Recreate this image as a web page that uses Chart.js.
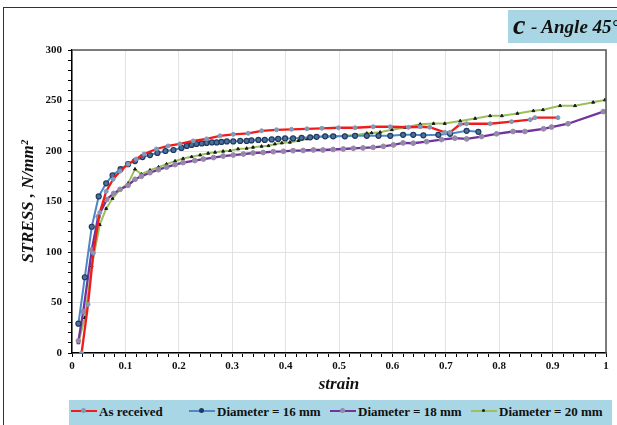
<!DOCTYPE html>
<html>
<head>
<meta charset="utf-8">
<script src="https://cdn.jsdelivr.net/npm/chart.js@4.4.1/dist/chart.umd.min.js"></script>
<style>
  html, body { margin: 0; padding: 0; background: #fff; }
  #wrap { position: relative; width: 617px; height: 425px; overflow: hidden; font-family: "Liberation Serif", serif; }
  #frame { position: absolute; left: 3px; top: 7px; width: 700px; height: 500px; border-left: 1.5px solid #333; border-top: 1.5px solid #333; }
  #chart { position: absolute; left: 0; top: 0; }
  #tag { position: absolute; left: 508px; top: 10px; width: 130px; height: 33px; background: #a9d6e4; font-weight: bold; font-style: italic; white-space: nowrap; color: #111; }
  #tag .big { font-size: 28px; position: absolute; left: 5px; top: -1px; }
  #tag .rest { font-size: 19px; position: absolute; left: 23px; top: 6px; }
  #legend { position: absolute; left: 69px; top: 400px; width: 543px; height: 25px; background: #a9d6e4; font-weight: bold; font-size: 13px; color: #111; }
  .item { position: absolute; top: 4px; white-space: nowrap; }
  .sw { display: inline-block; position: relative; width: 26px; height: 12px; vertical-align: -1px; margin-right: 2px; }
  .sw .ln { position: absolute; left: 0; right: 0; top: 5px; height: 2px; }
  .sw .pt { position: absolute; left: 10px; top: 3px; width: 5px; height: 5px; border-radius: 50%; }
</style>
</head>
<body>
<div id="wrap">
  <div id="frame"></div>
  <canvas id="chart" width="617" height="425"></canvas>
  <div id="tag"><span class="big">c</span><span class="rest">- Angle 45°</span></div>
  <div id="legend"></div>
</div>
<script>
// series names and colours
const seriesNames = ["As received", "Diameter = 16 mm", "Diameter = 18 mm", "Diameter = 20 mm"];
const lineColors = ["#f01c1c", "#4f86c6", "#7232a0", "#9bc05a"];
const markColors = ["#7f9aba", "#1f3a60", "#948aa6", "#1a1a1a"];

// As received
const asReceivedStrain = [0.018, 0.03, 0.04, 0.052, 0.064, 0.077, 0.09, 0.105, 0.12, 0.135, 0.158, 0.18, 0.202, 0.227, 0.252, 0.277, 0.302, 0.33, 0.355, 0.383, 0.411, 0.44, 0.468, 0.499, 0.53, 0.564, 0.596, 0.63, 0.652, 0.67, 0.698, 0.708, 0.727, 0.739, 0.783, 0.823, 0.858, 0.867, 0.91];
const asReceivedStress = [0, 48, 99, 139, 160, 172, 180, 187, 192, 197, 202, 205, 207, 210, 212, 215, 216.5, 217.5, 220, 221, 221.5, 222, 222.5, 223, 223, 224, 224, 223.5, 224, 223.5, 218.5, 218.5, 226.5, 227, 227, 229, 231, 233, 233];

// Diameter = 16 mm
const d16Strain = [0.012, 0.024, 0.037, 0.05, 0.064, 0.076, 0.091, 0.105, 0.118, 0.132, 0.146, 0.16, 0.175, 0.19, 0.205, 0.215, 0.224, 0.233, 0.243, 0.252, 0.262, 0.271, 0.28, 0.29, 0.302, 0.315, 0.327, 0.336, 0.349, 0.361, 0.374, 0.386, 0.399, 0.414, 0.43, 0.446, 0.458, 0.474, 0.489, 0.511, 0.53, 0.552, 0.574, 0.596, 0.62, 0.639, 0.658, 0.686, 0.708, 0.739, 0.761];
const d16Stress = [29, 75, 125, 155, 168, 176, 182, 187, 190, 194, 196, 198, 200, 201, 203, 205, 206, 207, 207.5, 208, 208.5, 208.5, 209, 209.5, 209.5, 210, 210, 210.5, 211, 211, 211.5, 212, 212.5, 212.5, 213, 213.5, 214, 214.5, 214.5, 214.5, 215, 215, 215, 215, 216, 216, 215.5, 216, 217, 220, 219];

// Diameter = 18 mm
const d18Strain = [0.012, 0.021, 0.037, 0.049, 0.065, 0.078, 0.09, 0.105, 0.118, 0.13, 0.146, 0.162, 0.177, 0.193, 0.208, 0.23, 0.246, 0.265, 0.283, 0.302, 0.321, 0.339, 0.358, 0.377, 0.396, 0.414, 0.433, 0.452, 0.47, 0.489, 0.508, 0.527, 0.545, 0.564, 0.583, 0.602, 0.62, 0.639, 0.664, 0.692, 0.717, 0.739, 0.767, 0.795, 0.826, 0.848, 0.883, 0.898, 0.929, 0.995];
const d18Stress = [12, 41, 102, 135, 152, 158, 162, 166, 172, 175, 178.5, 181.5, 184, 186.5, 188.5, 190.5, 192, 193.5, 195, 196, 197, 198, 198.5, 199.3, 199.7, 200.3, 200.5, 201, 201, 201.5, 202, 202.6, 203, 203.6, 204.6, 206, 208, 207.7, 209.3, 211.3, 212.7, 212, 214.3, 217, 219.3, 219.3, 222, 223.7, 227, 239];

// Diameter = 20 mm
const d20Strain = [0.012, 0.024, 0.037, 0.052, 0.064, 0.076, 0.09, 0.105, 0.118, 0.13, 0.146, 0.162, 0.177, 0.193, 0.208, 0.224, 0.24, 0.255, 0.268, 0.283, 0.296, 0.311, 0.327, 0.339, 0.355, 0.368, 0.38, 0.393, 0.408, 0.424, 0.44, 0.458, 0.477, 0.493, 0.511, 0.533, 0.552, 0.561, 0.577, 0.599, 0.624, 0.652, 0.677, 0.698, 0.727, 0.755, 0.783, 0.805, 0.834, 0.864, 0.882, 0.914, 0.942, 0.976, 0.998];
const d20Stress = [10, 35, 86, 127, 143, 153, 162, 168, 182, 177, 181, 184, 187, 190, 192.5, 194.3, 196, 197.7, 198.7, 199.7, 200.3, 202, 202.6, 203.6, 204.6, 205.2, 206.9, 207.9, 208.6, 210.2, 212, 213.5, 214.3, 214.6, 215.2, 215.9, 217.5, 217.9, 218.5, 221, 223.3, 226.5, 227.2, 227.2, 229.8, 232.2, 234.8, 234.8, 237.2, 239.8, 240.8, 244.8, 244.8, 248.2, 250.5];

// axes
const yMin = 0, yMax = 300, yMajor = 50, yMinor = 10;
const xMin = 0, xMax = 1, xMinor = 0.02;

function pairs(xs, ys) {
  return xs.map((x, i) => ({ x: x, y: ys[i] }));
}

const allData = [
  pairs(asReceivedStrain, asReceivedStress),
  pairs(d16Strain, d16Stress),
  pairs(d18Strain, d18Stress),
  pairs(d20Strain, d20Stress)
];
const pointStyles = ["circle", "circle", "circle", "triangle"];
const pointSizes = [2, 2.5, 2.4, 1.7];
const lineWidths = [2.3, 2, 2.3, 2];

const datasets = seriesNames.map((name, i) => ({
  label: name,
  data: allData[i],
  showLine: true,
  borderColor: lineColors[i],
  borderWidth: lineWidths[i],
  pointStyle: pointStyles[i],
  pointRadius: pointSizes[i],
  pointBackgroundColor: i == 1 ? "#4d6f99" : markColors[i],
  pointBorderColor: markColors[i],
  pointBorderWidth: i == 1 ? 1.2 : 1,
  tension: 0
}));

// frame on top and right of the plot
const plotFrame = {
  id: "plotFrame",
  afterDatasetsDraw(chart) {
    const a = chart.chartArea;
    const c = chart.ctx;
    c.save();
    c.strokeStyle = "#555";
    c.lineWidth = 1.5;
    c.beginPath();
    c.moveTo(a.left, a.top);
    c.lineTo(a.right, a.top);
    c.lineTo(a.right, a.bottom);
    c.stroke();
    c.restore();
  }
};

const tickFont = { family: "Liberation Serif", weight: "bold", size: 11 };

new Chart(document.getElementById("chart"), {
  type: "scatter",
  data: { datasets: datasets },
  plugins: [plotFrame],
  options: {
    responsive: false,
    animation: false,
    layout: { padding: { top: 50, right: 11, bottom: 30, left: 0 } },
    plugins: { legend: { display: false }, tooltip: { enabled: false } },
    scales: {
      x: {
        type: "linear",
        min: xMin,
        max: xMax,
        afterFit: function (s) { s.height = 42; },
        border: { color: "#000", width: 1.5 },
        grid: {
          color: function (ctx) {
            const r = Math.round(ctx.tick.value * 100);
            return r % 10 === 0 ? "#e2e2e2" : "rgba(0,0,0,0)";
          },
          tickColor: "#000",
          tickLength: 4
        },
        ticks: {
          stepSize: xMinor,
          autoSkip: false,
          maxRotation: 0,
          padding: 3,
          color: "#111",
          font: tickFont,
          callback: function (v) {
            const r = Math.round(v * 100);
            return r % 10 === 0 ? String(r / 100) : "";
          }
        },
        title: {
          display: true,
          text: "strain",
          color: "#111",
          padding: { top: 0, bottom: 0 },
          font: { family: "Liberation Serif", weight: "bold", style: "italic", size: 17 }
        }
      },
      y: {
        min: yMin,
        max: yMax,
        afterFit: function (s) { s.width = 72; },
        border: { color: "#000", width: 1.5 },
        grid: {
          color: function (ctx) {
            return ctx.tick.value % yMajor === 0 ? "#e2e2e2" : "rgba(0,0,0,0)";
          },
          tickColor: "#000",
          tickLength: 4
        },
        ticks: {
          stepSize: yMinor,
          autoSkip: false,
          padding: 6,
          color: "#111",
          font: tickFont,
          callback: function (v) {
            return v % yMajor === 0 ? v : "";
          }
        },
        title: {
          display: true,
          text: "STRESS , N/mm²",
          color: "#111",
          padding: { top: 18, bottom: 0 },
          font: { family: "Liberation Serif", weight: "bold", style: "italic", size: 17 }
        }
      }
    }
  }
});

// legend built from the series
const legendX = [2, 120, 261, 402];
const legend = document.getElementById("legend");
seriesNames.forEach(function (name, i) {
  const item = document.createElement("div");
  item.className = "item";
  item.style.left = legendX[i] + "px";
  const sw = document.createElement("span");
  sw.className = "sw";
  const ln = document.createElement("span");
  ln.className = "ln";
  ln.style.background = lineColors[i];
  const pt = document.createElement("span");
  pt.className = "pt";
  pt.style.background = markColors[i];
  if (i == 3) { pt.style.width = "3px"; pt.style.height = "3px"; pt.style.top = "4px"; pt.style.left = "11px"; }
  sw.appendChild(ln);
  sw.appendChild(pt);
  item.appendChild(sw);
  item.appendChild(document.createTextNode(name));
  legend.appendChild(item);
});
</script>
</body>
</html>
